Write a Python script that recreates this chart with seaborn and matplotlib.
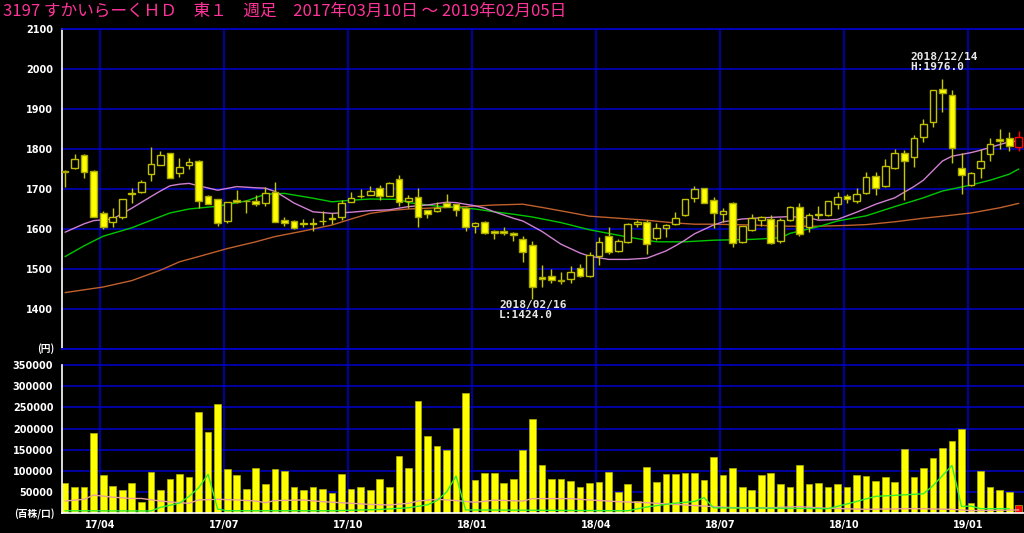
import numpy as np
import pandas as pd
import matplotlib
matplotlib.use('Agg')
import matplotlib.pyplot as plt
from matplotlib.patches import Rectangle
import seaborn as sns

# 黒背景のテーマ
sns.set_theme(style='dark', rc={'axes.facecolor': 'black', 'figure.facecolor': 'black'})
plt.rcParams['font.family'] = ['DejaVu Sans', 'Noto Sans CJK JP']

title = '3197 すかいらーくＨＤ　東１　週足　2017年03月10日 ～ 2019年02月05日'

# 週足 OHLC (2017/03/10 週 ～ 2019/02/05 週)
opens = [1744, 1752, 1784, 1744, 1640, 1618, 1629, 1687, 1693, 1737,
         1760, 1791, 1739, 1759, 1771, 1682, 1674, 1620, 1672, 1671,
         1670, 1666, 1692, 1622, 1621, 1613, 1612, 1619, 1624, 1629,
         1668, 1682, 1686, 1702, 1683, 1724, 1670, 1679, 1647, 1646,
         1666, 1662, 1652, 1607, 1618, 1596, 1596, 1589, 1576, 1559,
         1481, 1482, 1473, 1474, 1502, 1482, 1533, 1582, 1545, 1567,
         1612, 1617, 1577, 1602, 1612, 1635, 1677, 1702, 1672, 1637,
         1664, 1568, 1597, 1622, 1624, 1570, 1622, 1654, 1604, 1636,
         1635, 1662, 1682, 1671, 1691, 1733, 1708, 1753, 1790, 1779,
         1831, 1868, 1950, 1935, 1753, 1710, 1752, 1787, 1824, 1828, 1806]
highs = [1747, 1787, 1787, 1747, 1646, 1652, 1675, 1702, 1722, 1806,
         1795, 1791, 1777, 1777, 1772, 1684, 1675, 1668, 1697, 1672,
         1685, 1704, 1717, 1629, 1622, 1624, 1627, 1646, 1639, 1673,
         1692, 1699, 1707, 1710, 1717, 1735, 1685, 1702, 1648, 1668,
         1688, 1663, 1656, 1617, 1619, 1597, 1606, 1593, 1582, 1571,
         1509, 1500, 1492, 1508, 1512, 1542, 1579, 1604, 1574, 1614,
         1622, 1622, 1614, 1612, 1643, 1676, 1707, 1703, 1681, 1652,
         1668, 1608, 1637, 1632, 1635, 1628, 1657, 1664, 1639, 1657,
         1671, 1692, 1687, 1702, 1743, 1743, 1774, 1799, 1797, 1835,
         1874, 1948, 1976, 1947, 1789, 1743, 1799, 1827, 1850, 1843, 1845]
lows = [1704, 1749, 1728, 1630, 1601, 1606, 1624, 1666, 1689, 1720,
        1760, 1727, 1731, 1749, 1652, 1662, 1607, 1614, 1666, 1639,
        1658, 1657, 1617, 1607, 1601, 1604, 1596, 1610, 1612, 1622,
        1667, 1677, 1685, 1673, 1683, 1658, 1652, 1606, 1627, 1643,
        1654, 1632, 1595, 1589, 1588, 1574, 1584, 1571, 1517, 1424,
        1454, 1464, 1462, 1464, 1481, 1479, 1510, 1537, 1542, 1564,
        1604, 1537, 1572, 1579, 1610, 1633, 1667, 1665, 1602, 1617,
        1556, 1564, 1595, 1607, 1562, 1566, 1620, 1582, 1592, 1624,
        1633, 1649, 1664, 1664, 1687, 1685, 1706, 1749, 1672, 1754,
        1818, 1854, 1892, 1764, 1687, 1707, 1728, 1770, 1799, 1795, 1796]
closes = [1742, 1775, 1742, 1631, 1606, 1631, 1674, 1689, 1718, 1762,
          1785, 1727, 1756, 1767, 1671, 1662, 1614, 1667, 1667, 1670,
          1663, 1689, 1618, 1614, 1602, 1614, 1614, 1620, 1628, 1666,
          1677, 1683, 1695, 1683, 1714, 1667, 1677, 1631, 1637, 1652,
          1654, 1647, 1604, 1616, 1589, 1591, 1590, 1585, 1543, 1454,
          1475, 1472, 1469, 1493, 1482, 1534, 1567, 1542, 1570, 1613,
          1618, 1562, 1602, 1610, 1628, 1675, 1701, 1666, 1639, 1645,
          1566, 1607, 1628, 1631, 1566, 1622, 1654, 1587, 1635, 1637,
          1670, 1681, 1674, 1687, 1731, 1703, 1758, 1791, 1770, 1827,
          1862, 1947, 1940, 1802, 1735, 1741, 1771, 1812, 1821, 1807, 1831]

# 出来高 (百株)
volume = [72000, 63000, 63000, 189000, 90000, 65000, 56000, 72000, 26000, 98000,
          56000, 81000, 93000, 86000, 239000, 191000, 258000, 105000, 90000, 58000,
          107000, 70000, 105000, 100000, 61000, 56000, 63000, 58000, 49000, 93000,
          58000, 61000, 56000, 81000, 61000, 135000, 107000, 265000, 182000, 160000,
          149000, 202000, 284000, 79000, 95000, 95000, 72000, 81000, 149000, 223000,
          113000, 81000, 81000, 76000, 63000, 72000, 75000, 98000, 51000, 68000,
          28000, 109000, 75000, 93000, 93000, 95000, 95000, 79000, 132000, 90000,
          107000, 63000, 56000, 90000, 95000, 70000, 63000, 113000, 70000, 72000,
          61000, 68000, 61000, 90000, 88000, 76000, 86000, 75000, 151000, 86000,
          107000, 130000, 153000, 170000, 200000, 24000, 100000, 63000, 54000, 51000, 19000]

# 移動平均線 (チャートから読み取り)
ma_short_x = [0, 2, 3, 5, 7, 9, 10, 11, 12, 13, 14, 16, 18, 20, 21, 22, 23, 24, 26, 28,
              30, 32, 34, 36, 38, 40, 41, 42, 43, 44, 45, 47, 48, 50, 52, 54, 55, 57, 59, 61,
              63, 64, 65, 66, 68, 69, 71, 73, 76, 78, 79, 81, 83, 85, 87, 89, 90, 92, 93, 95,
              96, 98, 99, 100]
ma_short_y = [1592, 1613, 1621, 1625, 1652, 1681, 1695, 1708, 1712, 1714, 1708, 1697, 1706, 1703, 1702, 1694, 1680, 1665, 1643, 1639,
              1642, 1646, 1648, 1656, 1660, 1667, 1666, 1662, 1658, 1652, 1643, 1627, 1620, 1594, 1562, 1540, 1532, 1524, 1524, 1527,
              1545, 1558, 1572, 1588, 1610, 1618, 1625, 1628, 1631, 1628, 1622, 1624, 1642, 1662, 1678, 1706, 1722, 1770, 1782, 1791,
              1797, 1811, 1818, 1820]
ma_mid_x = [0, 2, 4, 7, 10, 11, 13, 16, 19, 21, 23, 26, 28, 30, 32, 35, 36, 39, 41, 43,
            45, 47, 49, 52, 55, 59, 62, 65, 68, 72, 75, 76, 79, 81, 84, 87, 90, 92, 95, 97,
            99, 100]
ma_mid_y = [1531, 1558, 1582, 1603, 1631, 1640, 1650, 1657, 1670, 1687, 1689, 1677, 1668, 1672, 1675, 1674, 1666, 1657, 1654, 1650,
            1643, 1637, 1630, 1616, 1598, 1580, 1568, 1568, 1572, 1574, 1578, 1589, 1606, 1620, 1633, 1656, 1678, 1695, 1710, 1722,
            1737, 1750]
ma_long_x = [0, 4, 7, 10, 12, 14, 17, 20, 22, 25, 28, 30, 32, 34, 36, 39, 42, 45, 48, 50,
             53, 55, 58, 61, 64, 66, 68, 72, 75, 79, 82, 84, 87, 90, 92, 95, 98, 100]
ma_long_y = [1441, 1455, 1471, 1497, 1518, 1531, 1551, 1568, 1581, 1595, 1610, 1625, 1639, 1646, 1650, 1653, 1656, 1660, 1662, 1654,
             1641, 1632, 1627, 1622, 1615, 1612, 1612, 1610, 1607, 1607, 1609, 1611, 1618, 1627, 1632, 1640, 1653, 1664]

# 出来高の線
vol_pink_x = [0, 2, 3, 5, 7, 8, 10, 12, 13, 14, 16, 18, 20, 21, 22, 25, 27, 30, 32, 34,
              36, 37, 39, 41, 43, 45, 48, 49, 53, 55, 58, 61, 65, 68, 70, 74, 77, 80, 84, 89,
              93, 95, 100]
vol_pink_y = [29000, 33000, 43000, 38000, 35000, 35000, 29000, 25000, 23600, 31500, 33000, 31500, 29000, 25000, 30000, 31500, 27500, 23600, 21000, 19700,
              23600, 29000, 33000, 30000, 26000, 31000, 29000, 34600, 34600, 31500, 27500, 25000, 19700, 15700, 13400, 13400, 15700, 11800, 9400, 11000,
              9400, 6300, 7900]
vol_green_x = [0, 9, 10, 12, 13, 14, 15, 16, 17, 28, 33, 36, 38, 39, 40, 41, 42, 59, 61, 64,
               66, 67, 68, 80, 82, 85, 90, 91, 93, 94, 95, 96, 99]
vol_green_y = [6000, 5500, 14000, 24000, 40000, 60000, 92000, 10000, 6000, 6000, 9000, 13000, 20000, 30000, 50000, 88000, 8000, 6000, 15000, 24000,
               28000, 37000, 13000, 11000, 22000, 40000, 46000, 65000, 113000, 16000, 17000, 11000, 11000]

price_ticks = [1400, 1500, 1600, 1700, 1800, 1900, 2000, 2100]
vol_ticks = [50000, 100000, 150000, 200000, 250000, 300000, 350000]
quarter_labels = ['17/04', '17/07', '17/10', '18/01', '18/04', '18/07', '18/10', '19/01']

weeks = np.arange(len(opens))
grid_x = [3.67 + 13 * k for k in range(len(quarter_labels))]
grid_color = '#0000cc'
x_lim = (-0.35, 100.55)

fig = plt.figure(figsize=(10.24, 5.33), dpi=100, facecolor='black')
ax_p = fig.add_axes([61.7 / 1024, 1 - 349 / 533, 1 - 61.7 / 1024, 320 / 533])
ax_v = fig.add_axes([61.7 / 1024, 1 - 513.3 / 533, 1 - 61.7 / 1024, 164.3 / 533])

# ---- 株価 ----
for ax in (ax_p, ax_v):
    ax.set_facecolor('black')
    for xg in grid_x:
        ax.axvline(xg, color=grid_color, lw=1.1, zorder=0.5)

for y in price_ticks:
    ax_p.axhline(y, color=grid_color, lw=1.1, zorder=0.5)

sns.lineplot(x=ma_long_x, y=ma_long_y, ax=ax_p, color='#c0602d', lw=1.0, zorder=2)
sns.lineplot(x=ma_mid_x, y=ma_mid_y, ax=ax_p, color='#00c800', lw=1.0, zorder=2)
sns.lineplot(x=ma_short_x, y=ma_short_y, ax=ax_p, color='#d080d0', lw=1.0, zorder=2)

body_w = 0.7
for i in weeks:
    o, h, l, c = opens[i], highs[i], lows[i], closes[i]
    last = i == weeks[-1]
    wick_col = '#ff0000' if last else '#c8c800'
    ax_p.vlines(i, l, h, color=wick_col, lw=1.0, zorder=3)
    lo, hi = min(o, c), max(o, c)
    hgt = max(hi - lo, 1.0)
    if last:
        fc, ec = 'black', '#ff0000'
    elif c < o:
        fc, ec = '#ffff00', '#a8a800'
    else:
        fc, ec = 'black', '#c0c000'
    ax_p.add_patch(Rectangle((i - body_w / 2, lo), body_w, hgt, facecolor=fc,
                             edgecolor=ec, lw=1.0, zorder=4))

ax_p.text(88.6, 2043, '2018/12/14\nH:1976.0', color='#e8e8e8', fontsize=8,
          family='DejaVu Sans Mono', fontweight='bold', va='top', ha='left', linespacing=1.0, zorder=5)
ax_p.text(45.5, 1423, '2018/02/16\nL:1424.0', color='#e8e8e8', fontsize=8,
          family='DejaVu Sans Mono', fontweight='bold', va='top', ha='left', linespacing=1.0, zorder=5)

ax_p.set_xlim(*x_lim)
ax_p.set_ylim(1300, 2100)
ax_p.set_yticks(price_ticks)
ax_p.set_yticklabels([str(t) for t in price_ticks])
ax_p.set_xticks([])

# ---- 出来高 ----
for y in vol_ticks:
    ax_v.axhline(y, color=grid_color, lw=1.1, zorder=0.5)

df_vol = pd.DataFrame({'week': weeks, 'volume': volume,
                       'kind': ['past'] * (len(weeks) - 1) + ['current']})
sns.barplot(data=df_vol, x='week', y='volume', hue='kind',
            palette={'past': '#ffff00', 'current': '#ff0000'}, dodge=False,
            width=0.7, errorbar=None, legend=False, edgecolor='#b0b000',
            linewidth=0.5, saturation=1, ax=ax_v, zorder=2)
sns.lineplot(x=vol_pink_x, y=vol_pink_y, ax=ax_v, color='#e8a0a0', lw=1.0, zorder=3)
sns.lineplot(x=vol_green_x, y=vol_green_y, ax=ax_v, color='#33ee33', lw=1.0, zorder=3)

ax_v.set_xlim(*x_lim)
ax_v.set_ylim(0, 387800)
ax_v.set_yticks(vol_ticks)
ax_v.set_yticklabels([str(t) for t in vol_ticks])
ax_v.set_xticks(grid_x)
ax_v.set_xticklabels(quarter_labels)
ax_v.set_xlabel('')
ax_v.set_ylabel('')

# 軸の見た目
for ax in (ax_p, ax_v):
    ax.grid(False)
    ax.tick_params(axis='both', colors='white', labelcolor='white', labelsize=7,
                   length=3, width=1, direction='out', pad=3)
    for lab in ax.get_yticklabels() + ax.get_xticklabels():
        lab.set_fontweight('bold')
    ax.spines['right'].set_visible(False)
    ax.spines['left'].set_color('white')
    ax.spines['left'].set_linewidth(1.2)

ax_p.spines['top'].set_color(grid_color)
ax_p.spines['bottom'].set_color(grid_color)
ax_v.spines['top'].set_color(grid_color)
ax_v.spines['left'].set_bounds(0, 350000)
ax_v.spines['bottom'].set_color('white')
ax_v.spines['bottom'].set_linewidth(1.2)
ax_v.tick_params(axis='x', pad=2)

fig.text(54 / 1024, 1 - 349 / 533, '(円)', color='white', fontsize=7, fontweight='bold',
         family=['Noto Sans CJK JP', 'DejaVu Sans'], ha='right', va='center')
fig.text(55 / 1024, 1 - 514 / 533, '(百株/口)', color='white', fontsize=7, fontweight='bold',
         family=['Noto Sans CJK JP', 'DejaVu Sans'], ha='right', va='center')
fig.text(3 / 1024, 1 - 11 / 533, title, color='#ff3399', fontsize=12,
         family=['Noto Sans CJK JP', 'DejaVu Sans'], ha='left', va='center')

fig.savefig('out.png', dpi=100, facecolor='black')
